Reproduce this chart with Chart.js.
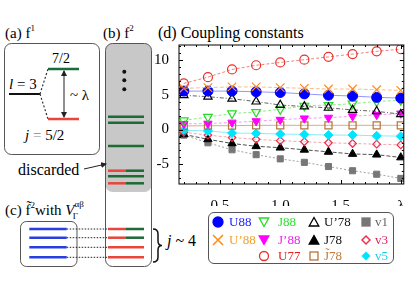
<!DOCTYPE html>
<html>
<head>
<meta charset="utf-8">
<script src="https://cdn.jsdelivr.net/npm/chart.js@4.4.1/dist/chart.umd.min.js"></script>
<style>
  html,body{margin:0;padding:0;background:#fff;}
  #page{position:relative;width:411px;height:291px;overflow:hidden;font-family:'Liberation Serif','Times New Roman',serif;}
  #diag{position:absolute;left:0;top:0;font-family:'Liberation Serif','Times New Roman',serif;}
  #diag text{font-family:'Liberation Serif','Times New Roman',serif;}
  #c{position:absolute;left:0;top:0;}
  #legend{position:absolute;left:208px;top:212px;width:186px;height:52px;border:1px solid #555;border-radius:6px;box-sizing:border-box;}
  .lg{position:absolute;font-family:'Liberation Serif','Times New Roman',serif;font-size:13px;line-height:14px;white-space:nowrap;}
  .mk{position:absolute;}
</style>
</head>
<body>
<div id="page">
<svg id="diag" width="411" height="291">
  <defs>
    <marker id="ah" markerWidth="6" markerHeight="6" refX="5" refY="3" orient="auto-start-reverse" markerUnits="userSpaceOnUse">
      <path d="M0,0 L6,3 L0,6 Z" fill="#222"/>
    </marker>
  </defs>
  <!-- (a) -->
  <text x="5" y="38" font-size="15">(a) f<tspan font-size="9" dy="-7">1</tspan></text>
  <rect x="4.5" y="43.5" width="95" height="111" rx="7" fill="none" stroke="#555" stroke-width="1"/>
  <text x="9" y="89" font-size="15"><tspan font-style="italic">l</tspan> = 3</text>
  <line x1="9" y1="94" x2="40" y2="94" stroke="#111" stroke-width="2"/>
  <line x1="40" y1="94" x2="48" y2="69" stroke="#333" stroke-width="1.2" stroke-dasharray="2,2"/>
  <line x1="40" y1="94" x2="48" y2="119" stroke="#333" stroke-width="1.2" stroke-dasharray="2,2"/>
  <line x1="48" y1="69" x2="79" y2="69" stroke="#1d6b35" stroke-width="2.5"/>
  <line x1="48" y1="119" x2="79" y2="119" stroke="#e8453c" stroke-width="2.5"/>
  <text x="52" y="63" font-size="14">7/2</text>
  <line x1="64" y1="71" x2="64" y2="117" stroke="#222" stroke-width="1" marker-start="url(#ah)" marker-end="url(#ah)"/>
  <text x="70" y="100" font-size="15">~ λ</text>
  <text x="25" y="140" font-size="15"><tspan font-style="italic">j</tspan> <tspan fill="#888">=</tspan> 5/2</text>

  <!-- (b) -->
  <text x="103" y="38" font-size="15">(b) f<tspan font-size="9" dy="-7">2</tspan></text>
  <rect x="105.5" y="43.5" width="46" height="148.5" rx="7" fill="#c8c8c8" stroke="none"/>
  <rect x="105.5" y="43.5" width="46" height="223" rx="7" fill="none" stroke="#555" stroke-width="1"/>
  <circle cx="124.3" cy="71.7" r="2" fill="#111"/>
  <circle cx="124.3" cy="80.3" r="2" fill="#111"/>
  <circle cx="124.3" cy="89.3" r="2" fill="#111"/>
  <g stroke-width="2.5">
    <line x1="108" y1="116.7" x2="144" y2="116.7" stroke="#1d6b35"/>
    <line x1="108" y1="122.7" x2="144" y2="122.7" stroke="#1d6b35"/>
    <line x1="108" y1="146" x2="144" y2="146" stroke="#1d6b35"/>
    <line x1="108" y1="170.7" x2="126" y2="170.7" stroke="#e8453c"/>
    <line x1="126" y1="170.7" x2="144" y2="170.7" stroke="#1d6b35"/>
    <line x1="108" y1="176.3" x2="144" y2="176.3" stroke="#1d6b35"/>
    <line x1="108" y1="183.3" x2="126" y2="183.3" stroke="#e8453c"/>
    <line x1="126" y1="183.3" x2="144" y2="183.3" stroke="#1d6b35"/>
    <line x1="108" y1="229" x2="126" y2="229" stroke="#e8453c"/>
    <line x1="126" y1="229" x2="144" y2="229" stroke="#1d6b35"/>
    <line x1="108" y1="237.7" x2="126" y2="237.7" stroke="#e8453c"/>
    <line x1="126" y1="237.7" x2="144" y2="237.7" stroke="#1d6b35"/>
    <line x1="108" y1="247.3" x2="144" y2="247.3" stroke="#e8453c"/>
    <line x1="108" y1="257.3" x2="144" y2="257.3" stroke="#e8453c"/>
  </g>
  <text x="18" y="175" font-size="16">discarded</text>
  <line x1="84" y1="169" x2="106" y2="164" stroke="#222" stroke-width="1" marker-end="url(#ah)"/>

  <!-- (c) -->
  <text x="5" y="215" font-size="15">(c) f&#x0303;<tspan font-size="9" dy="-7">2</tspan><tspan dy="7">with </tspan><tspan font-style="italic">V</tspan><tspan font-size="9" dy="-8">αβ</tspan><tspan font-size="9" dx="-11" dy="12">Γ</tspan></text>
  <rect x="20.5" y="221.5" width="56.5" height="45" rx="6" fill="none" stroke="#555" stroke-width="1"/>
  <g stroke="#2a3ee0" stroke-width="2.5">
    <line x1="29.3" y1="229" x2="66.7" y2="229"/>
    <line x1="29.3" y1="237.7" x2="66.7" y2="237.7"/>
    <line x1="29.3" y1="247.3" x2="66.7" y2="247.3"/>
    <line x1="29.3" y1="257.3" x2="66.7" y2="257.3"/>
  </g>
  <g stroke="#222" stroke-width="1" stroke-dasharray="1.5,1.5">
    <line x1="66.7" y1="229" x2="108" y2="229"/>
    <line x1="66.7" y1="237.7" x2="108" y2="237.7"/>
    <line x1="66.7" y1="247.3" x2="108" y2="247.3"/>
    <line x1="66.7" y1="257.3" x2="108" y2="257.3"/>
  </g>
  <path d="M153,229 Q158,229 158,234 L158,241 Q158,245.5 162,245.5 Q158,245.5 158,250 L158,257 Q158,262 153,262" fill="none" stroke="#111" stroke-width="1.5"/>
  <text x="167" y="246" font-size="16"><tspan font-style="italic">j</tspan> ~ 4</text>

  <!-- (d) title -->
  <text x="158" y="38" font-size="16">(d) Coupling constants</text>
</svg>
<canvas id="c" width="411" height="291"></canvas>
<div id="legend"></div>
</div>
<script>
// ---- data ----
const lambdas = [0.2, 0.4, 0.6, 0.8, 1.0, 1.2, 1.4, 1.6, 1.8, 2.0];
const U77  = [6.6, 7.5, 8.6, 9.2, 9.6, 10.0, 10.4, 10.8, 11.2, 11.5];
const U88p = [5.9, 6.0, 6.1, 6.1, 6.0, 5.9, 5.8, 5.8, 5.7, 5.6];
const U88  = [5.5, 5.5, 5.5, 5.4, 5.3, 5.1, 4.9, 4.8, 4.6, 4.5];
const U78p = [4.9, 4.7, 4.4, 4.0, 3.5, 3.3, 3.1, 2.8, 2.6, 2.2];
const J88  = [1.3, 1.8, 2.3, 2.5, 2.9, 3.4, 3.5, 3.7, 4.0, 4.2];
const J88p = [0.8, 0.85, 1.0, 1.2, 1.4, 1.6, 1.7, 1.9, 2.1, 2.3];
const J78t = [0.5, 0.55, 0.55, 0.6, 0.6, 0.6, 0.6, 0.6, 0.6, 0.6];
const v5   = [-0.1, -0.2, -0.5, -0.55, -0.65, -0.7, -0.8, -0.8, -0.9, -0.95];
const v3   = [-0.4, -0.8, -1.15, -1.4, -1.6, -1.75, -1.9, -2.0, -2.1, -2.2];
const J78  = [-0.7, -1.4, -2.0, -2.4, -2.6, -2.9, -3.2, -3.5, -3.6, -4.0];
const v1   = [-0.8, -1.9, -2.9, -3.6, -4.2, -4.7, -5.3, -5.9, -6.4, -7.0];

const xTickValues = [0.5, 1.0, 1.5, 2.0];
const xTickLabels = ['0.5', '1.0', '1.5', 'λ'];
const yTickValues = [-5, 0, 5, 10];
const yTickLabels = ['-5', '0', '5', '10'];

// ---- series styling ----
const series = [
  {label:'U77',  data:U77,  color:'#e8302a', line:'rgba(235,90,80,0.75)',  dash:[3,2], style:'circle',    r:4.5, fill:false},
  {label:'U’88', data:U88p, color:'#ff8c1a', line:'rgba(245,180,120,0.85)', dash:[4,2], style:'crossRot',  r:6,   fill:false},
  {label:'U88',  data:U88,  color:'#0000ff', line:'rgba(130,130,255,0.85)', dash:[],    style:'circle',    r:5,   fill:true},
  {label:'U’78', data:U78p, color:'#000000', line:'rgba(60,60,60,0.8)',     dash:[4,2,1,2], style:'triangle', r:4.8, fill:false},
  {label:'J88',  data:J88,  color:'#22dd22', line:'rgba(120,230,120,0.85)', dash:[3,2], style:'triangle',  r:5,   fill:false, rot:180},
  {label:'J’88', data:J88p, color:'#ff00ff', line:'rgba(240,140,240,0.85)', dash:[3,2], style:'triangle',  r:4.8, fill:true,  rot:180},
  {label:'J̃78', data:J78t, color:'#b8733a', line:'rgba(205,160,120,0.85)', dash:[],    style:'rect',      r:5,   fill:false},
  {label:'v5',   data:v5,   color:'#00e5ff', line:'rgba(120,230,250,0.85)', dash:[],    style:'rectRot',   r:4.5, fill:true},
  {label:'v3',   data:v3,   color:'#ee3050', line:'rgba(240,150,160,0.85)', dash:[3,2], style:'rectRot',   r:3.8, fill:false},
  {label:'J78',  data:J78,  color:'#000000', line:'rgba(50,50,50,0.85)',    dash:[4,2], style:'triangle',  r:4.8, fill:true},
  {label:'v1',   data:v1,   color:'#777777', line:'rgba(150,150,150,0.9)',  dash:[2,2], style:'rect',      r:4.3, fill:true}
];

const datasets = series.map(s => ({
  label: s.label,
  data: lambdas.map((x, i) => ({x: x, y: s.data[i]})),
  borderColor: s.line,
  borderWidth: 1,
  borderDash: s.dash,
  pointStyle: s.style,
  pointRadius: s.r,
  pointRotation: s.rot || 0,
  pointBorderColor: s.color,
  pointBackgroundColor: s.fill ? s.color : 'rgba(0,0,0,0)',
  pointBorderWidth: s.fill ? 1 : 1.2,
  tension: 0,
  fill: false
}));

const framePlugin = {
  id: 'frame',
  afterDatasetsDraw(chart) {
    const {ctx, chartArea: a, scales: {x, y}} = chart;
    ctx.save();
    ctx.strokeStyle = '#000';
    ctx.lineWidth = 1;
    ctx.strokeRect(a.left, a.top, a.right - a.left, a.bottom - a.top);
    ctx.beginPath();
    for (let i = 2; i <= 20; i++) {
      const v = i / 10;
      const px = Math.round(x.getPixelForValue(v)) + 0.5;
      const len = (i % 5 === 0) ? 4 : 2;
      ctx.moveTo(px, a.bottom); ctx.lineTo(px, a.bottom - len);
      ctx.moveTo(px, a.top); ctx.lineTo(px, a.top + len);
    }
    for (let v = -7; v <= 12; v++) {
      const py = Math.round(y.getPixelForValue(v)) + 0.5;
      const len = (v % 5 === 0) ? 4 : 2;
      ctx.moveTo(a.left, py); ctx.lineTo(a.left + len, py);
      ctx.moveTo(a.right, py); ctx.lineTo(a.right - len, py);
    }
    ctx.stroke();
    ctx.restore();
  }
};

const tickFont = {family: "'Liberation Serif', 'Times New Roman', serif", size: 15};

new Chart(document.getElementById('c'), {
  type: 'line',
  data: {datasets},
  options: {
    responsive: false,
    animation: false,
    devicePixelRatio: 1,
    layout: {padding: {left: 149, right: 7, top: 45, bottom: 85}},
    plugins: {legend: {display: false}, tooltip: {enabled: false}, title: {display: false}},
    scales: {
      x: {
        type: 'linear', min: 0.16, max: 2.025,
        grid: {display: false}, border: {display: false},
        afterBuildTicks: s => { s.ticks = xTickValues.map(v => ({value: v})); },
        afterFit: s => { s.height = 22; },
        ticks: {
          padding: 5, color: '#000', maxRotation: 0, autoSkip: false,
          font: tickFont,
          callback: (v) => { const i = xTickValues.indexOf(v); return i >= 0 ? xTickLabels[i] : ''; }
        }
      },
      y: {
        type: 'linear', min: -7.8, max: 12.1,
        grid: {display: false}, border: {display: false},
        afterBuildTicks: s => { s.ticks = yTickValues.map(v => ({value: v})); },
        afterFit: s => { s.width = 30; },
        ticks: {
          padding: 2, color: '#000', autoSkip: false,
          font: tickFont,
          callback: (v) => { const i = yTickValues.indexOf(v); return i >= 0 ? yTickLabels[i] : ''; }
        }
      }
    }
  },
  plugins: [framePlugin]
});

// ---- legend (grid with one empty cell) ----
const legendCells = [
  ['U88', 0, 0], ['J88', 1, 0], ['U’78', 2, 0], ['v1', 3, 0],
  ['U’88', 0, 1], ['J’88', 1, 1], ['J78', 2, 1], ['v3', 3, 1],
  ['U77', 1, 2], ['J̃78', 2, 2], ['v5', 3, 2]
];
const colMarkX = [218, 264, 314, 366];
const colTextX = [229, 278, 324, 375];
const rowY = [222, 239.5, 256];
const textColors = {'U88':'#1a1aff','J88':'#33dd33','U’78':'#111','v1':'#666','U’88':'#f0a030','J’88':'#ee22ee','J78':'#111','v3':'#e02060','U77':'#e02020','J̃78':'#c07a3a','v5':'#22ccee'};
const legend = document.getElementById('legend');
const L = 208, T = 212;
function markerSVG(s) {
  const c = s.color, f = s.fill ? c : 'none';
  let shape = '';
  if (s.style === 'circle') shape = `<circle cx="7" cy="7" r="${s.r}" fill="${f}" stroke="${c}" stroke-width="1.3"/>`;
  else if (s.style === 'crossRot') shape = `<path d="M2,2 L12,12 M12,2 L2,12" stroke="${c}" stroke-width="1.6"/>`;
  else if (s.style === 'triangle') {
    shape = s.rot ? `<path d="M2.2,3 L11.8,3 L7,11.5 Z" fill="${f}" stroke="${c}" stroke-width="1.3"/>`
                  : `<path d="M2.2,11 L11.8,11 L7,2.5 Z" fill="${f}" stroke="${c}" stroke-width="1.3"/>`;
  }
  else if (s.style === 'rect') shape = `<rect x="3" y="3" width="8" height="8" fill="${f}" stroke="${c}" stroke-width="1.3"/>`;
  else if (s.style === 'rectRot') {
    const h = s.fill ? 3.5 : 4;
    shape = `<path d="M7,${7-h} L${7+h},7 L7,${7+h} L${7-h},7 Z" fill="${f}" stroke="${c}" stroke-width="1.5"/>`;
  }
  return `<svg width="14" height="14">${shape}</svg>`;
}
legendCells.forEach(([lab, col, row]) => {
  const s = series.find(q => q.label === lab);
  const m = document.createElement('div');
  m.className = 'mk';
  m.style.left = (colMarkX[col] - 7 - L - 1) + 'px';
  m.style.top = (rowY[row] - 7 - T - 1) + 'px';
  m.innerHTML = markerSVG(s);
  legend.appendChild(m);
  const t = document.createElement('div');
  t.className = 'lg';
  t.textContent = lab;
  t.style.color = textColors[lab];
  t.style.left = (colTextX[col] - L - 1) + 'px';
  t.style.top = (rowY[row] - 7 - T - 1) + 'px';
  legend.appendChild(t);
});
</script>
</body>
</html>
